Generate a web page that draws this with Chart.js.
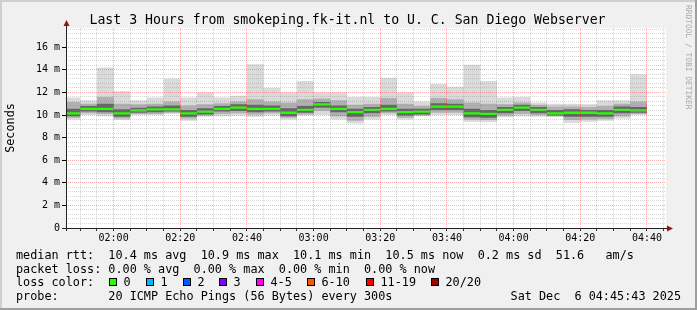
<!DOCTYPE html>
<html>
<head>
<meta charset="utf-8">
<script src="https://cdn.jsdelivr.net/npm/chart.js@4"></script>
<style>
  html, body { margin: 0; padding: 0; background: #f0f0f0; }
  canvas { display: block; }
</style>
</head>
<body>
<canvas id="chart" width="697" height="310"></canvas>
<script>
// time axis in minutes after midnight, graph spans 01:45:43 .. 04:45:43
const startMin = 105 + 43 / 60;
const endMin = 285 + 43 / 60;

// 5 minute bins, first one is cut off by the left edge, last closes at 04:40
const binStart = [startMin];
for (let t = 110; t <= 280; t += 5) binStart.push(t);

// smoke per bin (ms), outer to inner
const maxRtt = [11.55, 11.3, 14.2, 12.1, 11.3, 11.55, 13.2, 11.55, 12.0, 11.55, 11.7, 14.5, 12.4, 12.0, 13.0, 12.0, 12.0, 11.6,
  11.6, 13.3, 12.0, 11.2, 12.75, 12.5, 14.45, 13.0, 11.55, 11.6, 11.1, 11.0, 11.0, 10.95, 11.3, 11.3, 13.6];
const hiMid = [11.15, 11.0, 11.6, 11.0, 10.95, 11.0, 11.2, 10.85, 10.95, 11.05, 11.2, 11.4, 11.2, 11.1, 11.4, 11.45, 11.3, 10.9,
  11.0, 11.5, 11.0, 10.8, 11.5, 11.4, 11.1, 11.0, 10.95, 11.1, 10.9, 10.75, 10.75, 10.7, 10.8, 11.0, 11.2];
const hiDark = [10.55, 10.8, 11.0, 10.5, 10.65, 10.75, 10.85, 10.45, 10.6, 10.8, 10.95, 10.9, 10.85, 10.6, 10.8, 11.15, 10.85, 10.55,
  10.7, 10.9, 10.55, 10.55, 11.05, 11.0, 10.55, 10.45, 10.7, 10.9, 10.7, 10.45, 10.5, 10.45, 10.45, 10.75, 10.7];
const median = [10.15, 10.55, 10.55, 10.15, 10.4, 10.5, 10.5, 10.15, 10.3, 10.55, 10.65, 10.55, 10.55, 10.2, 10.45, 10.95, 10.55, 10.25,
  10.45, 10.55, 10.25, 10.3, 10.75, 10.75, 10.15, 10.1, 10.45, 10.65, 10.45, 10.15, 10.2, 10.2, 10.15, 10.45, 10.4];
const loDark = [9.9, 10.3, 10.25, 9.85, 10.2, 10.25, 10.3, 9.85, 10.05, 10.3, 10.35, 10.25, 10.3, 9.9, 10.2, 10.65, 10.25, 9.85,
  10.15, 10.3, 9.95, 10.05, 10.45, 10.45, 9.8, 9.75, 10.15, 10.35, 10.15, 9.95, 9.85, 9.85, 9.85, 10.15, 10.2];
const loMid = [9.75, 10.15, 10.1, 9.7, 10.1, 10.1, 10.2, 9.7, 9.95, 10.1, 10.15, 10.05, 10.15, 9.75, 10.05, 10.35, 9.9, 9.5,
  9.85, 10.15, 9.75, 9.95, 10.2, 10.2, 9.6, 9.55, 9.95, 10.1, 10.0, 9.9, 9.55, 9.6, 9.65, 9.9, 10.1];
const minRtt = [9.6, 10.0, 9.9, 9.55, 10.0, 10.0, 10.1, 9.5, 9.85, 9.9, 9.95, 9.85, 9.95, 9.6, 9.95, 10.0, 9.6, 9.25,
  9.6, 10.0, 9.6, 9.9, 10.0, 10.0, 9.4, 9.35, 9.8, 9.9, 9.85, 9.85, 9.3, 9.4, 9.5, 9.7, 10.0];

const lossLabels = ['0', '1', '2', '3', '4-5', '6-10', '11-19', '20/20'];
const lossColors = ['#26ff00', '#00b8ff', '#0059ff', '#7e00ff', '#ff00ff', '#ff5500', '#ff0000', '#a10000'];

const titleText = 'Last 3 Hours from smokeping.fk-it.nl to U. C. San Diego Webserver';
const legendLines = [
  'median rtt:  10.4 ms avg  10.9 ms max  10.1 ms min  10.5 ms now  0.2 ms sd  51.6   am/s',
  'packet loss: 0.00 % avg  0.00 % max  0.00 % min  0.00 % now'
];
const probeText = 'probe:       20 ICMP Echo Pings (56 Bytes) every 300s';
const dateText = 'Sat Dec  6 04:45:43 2025';

const MONO = '"DejaVu Sans Mono", "Liberation Mono", monospace';

function steps(vals) {
  const pts = vals.map((v, i) => ({ x: binStart[i], y: v }));
  pts.push({ x: binStart[vals.length], y: vals[vals.length - 1] });
  return pts;
}

// median drawn as a thin band like smokeping does
const medHi = median.map(v => v + 0.1);
const medLo = median.map(v => v - 0.1);

function band(vals, fillTo, color) {
  return {
    type: 'line',
    data: steps(vals),
    stepped: true,
    borderColor: 'transparent',
    borderWidth: 0,
    pointRadius: 0,
    backgroundColor: color || 'transparent',
    fill: fillTo === null ? false : fillTo
  };
}

function hhmm(m) {
  const h = Math.floor(m / 60), mm = Math.round(m % 60);
  return String(h).padStart(2, '0') + ':' + String(mm).padStart(2, '0');
}

const isMajorY = v => Math.abs(v / 2 - Math.round(v / 2)) < 1e-6;
const isMajorX = v => Math.abs(v / 20 - Math.round(v / 20)) < 1e-6;

const decor = {
  id: 'decor',
  beforeDraw(chart) {
    const ctx = chart.ctx, a = chart.chartArea;
    ctx.save();
    ctx.fillStyle = '#f0f0f0';
    ctx.fillRect(0, 0, chart.width, chart.height);
    ctx.fillStyle = '#ffffff';
    ctx.fillRect(a.left, a.top, a.right - a.left, a.bottom - a.top);
    ctx.restore();
  },
  afterDraw(chart) {
    const ctx = chart.ctx, a = chart.chartArea;
    const W = chart.width, H = chart.height;
    ctx.save();

    // axes with arrow heads
    ctx.strokeStyle = '#222';
    ctx.lineWidth = 1;
    ctx.beginPath();
    ctx.moveTo(a.left - 4, a.bottom + 0.5);
    ctx.lineTo(a.right + 3, a.bottom + 0.5);
    ctx.moveTo(a.left + 0.5, a.bottom + 3);
    ctx.lineTo(a.left + 0.5, a.top - 4);
    ctx.stroke();
    ctx.fillStyle = '#991111';
    ctx.beginPath();
    ctx.moveTo(a.right + 7, a.bottom + 0.5);
    ctx.lineTo(a.right + 1, a.bottom - 2.5);
    ctx.lineTo(a.right + 1, a.bottom + 3.5);
    ctx.closePath();
    ctx.fill();
    ctx.beginPath();
    ctx.moveTo(a.left + 0.5, a.top - 8);
    ctx.lineTo(a.left - 2.5, a.top - 2);
    ctx.lineTo(a.left + 3.5, a.top - 2);
    ctx.closePath();
    ctx.fill();

    // title
    ctx.fillStyle = '#000';
    ctx.font = '13.2px ' + MONO;
    ctx.textAlign = 'center';
    ctx.textBaseline = 'alphabetic';
    ctx.fillText(titleText, 347.5, 24);

    // y axis title
    ctx.font = '11.8px ' + MONO;
    ctx.save();
    ctx.translate(11, (a.top + a.bottom) / 2);
    ctx.rotate(-Math.PI / 2);
    ctx.textBaseline = 'middle';
    ctx.fillText('Seconds', 0, 0);
    ctx.restore();

    // rrdtool watermark
    ctx.save();
    ctx.translate(688.5, 5);
    ctx.rotate(Math.PI / 2);
    ctx.font = '7.9px ' + MONO;
    ctx.fillStyle = '#a8a8a8';
    ctx.textAlign = 'left';
    ctx.textBaseline = 'middle';
    ctx.fillText('RRDTOOL / TOBI OETIKER', 0, 0);
    ctx.restore();

    // legend
    ctx.font = '11.8px ' + MONO;
    ctx.textAlign = 'left';
    ctx.textBaseline = 'alphabetic';
    ctx.fillStyle = '#000';
    ctx.fillText(legendLines[0], 16, 259);
    ctx.fillText(legendLines[1], 16, 272.5);
    ctx.fillText('loss color:', 16, 286);
    const boxX = [109, 146, 183, 219, 256, 307, 366, 431];
    lossLabels.forEach((lab, i) => {
      ctx.fillStyle = lossColors[i];
      ctx.fillRect(boxX[i], 278, 8, 8);
      ctx.strokeStyle = '#000';
      ctx.strokeRect(boxX[i] + 0.5, 278.5, 7, 7);
      ctx.fillStyle = '#000';
      ctx.fillText(lab, boxX[i] + 14.5, 286);
    });
    ctx.fillText(probeText, 16, 299.5);
    ctx.textAlign = 'right';
    ctx.fillText(dateText, 681, 299.5);

    // 3d frame
    ctx.fillStyle = '#cfcfcf';
    ctx.fillRect(0, 0, W, 2);
    ctx.fillRect(0, 0, 2, H);
    ctx.fillStyle = '#9e9e9e';
    ctx.fillRect(0, H - 2, W, 2);
    ctx.fillRect(W - 2, 0, 2, H);
    ctx.restore();
  }
};

new Chart(document.getElementById('chart'), {
  type: 'line',
  data: {
    datasets: [
      band(medHi, 1, '#26ff00'),
      band(medLo, null),
      band(hiDark, 3, '#666666'),
      band(loDark, null),
      band(hiMid, 5, '#b0b0b0'),
      band(loMid, null),
      band(maxRtt, 7, '#dadada'),
      band(minRtt, null)
    ]
  },
  options: {
    responsive: false,
    animation: false,
    events: [],
    layout: { padding: { left: 0, right: 31, top: 28, bottom: 62 } },
    plugins: { legend: { display: false }, tooltip: { enabled: false } },
    scales: {
      x: {
        type: 'linear',
        min: startMin,
        max: endMin,
        afterBuildTicks(scale) {
          const t = [];
          for (let m = 110; m <= 285; m += 5) t.push({ value: m });
          scale.ticks = t;
        },
        afterFit(scale) { scale.height = 20; },
        border: { display: false, dash: [1, 1] },
        grid: {
          z: 1,
          color: c => (c.tick && isMajorX(c.tick.value)) ? 'rgba(255,0,0,0.32)' : 'rgba(128,128,128,0.32)',
          tickColor: '#333',
          tickLength: 3
        },
        ticks: {
          autoSkip: false,
          maxRotation: 0,
          minRotation: 0,
          padding: 1,
          color: '#000',
          font: { family: MONO, size: 10 },
          callback: v => isMajorX(v) ? hhmm(v) : ''
        }
      },
      y: {
        min: 0,
        max: 17.7,
        afterFit(scale) { scale.width = 66; },
        border: { display: false, dash: [1, 1] },
        grid: {
          z: 1,
          color: c => (c.tick && isMajorY(c.tick.value)) ? 'rgba(255,0,0,0.32)' : 'rgba(128,128,128,0.32)',
          tickColor: c => (c.tick && isMajorY(c.tick.value)) ? '#000' : 'transparent',
          tickLength: 4
        },
        ticks: {
          stepSize: 0.4,
          includeBounds: false,
          autoSkip: false,
          padding: 2,
          color: '#000',
          font: { family: MONO, size: 10 },
          callback: v => isMajorY(v) ? (v === 0 ? '0' : Math.round(v) + ' m') : ''
        }
      }
    }
  },
  plugins: [decor]
});
</script>
</body>
</html>
